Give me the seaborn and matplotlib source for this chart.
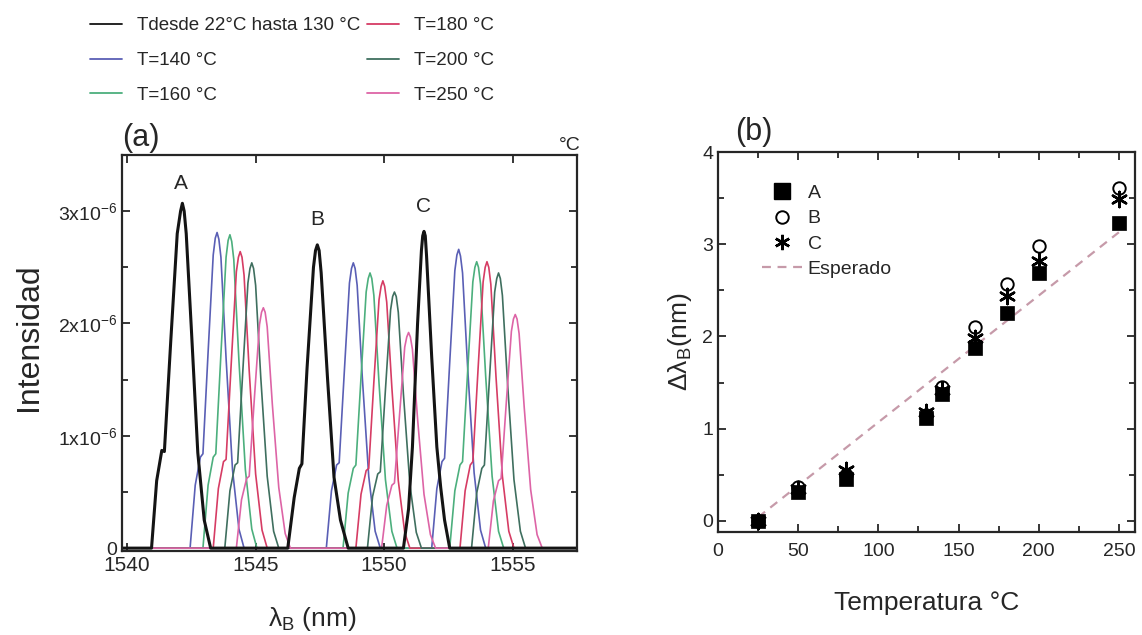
import matplotlib
matplotlib.use("Agg")
import matplotlib.pyplot as plt
import seaborn as sns
import pandas as pd
from matplotlib.lines import Line2D
from matplotlib.ticker import MultipleLocator, FixedLocator

sns.set_style("ticks")
plt.rcParams['font.family'] = ['Liberation Sans', 'DejaVu Sans']
plt.rcParams['mathtext.fontset'] = 'custom'
plt.rcParams['mathtext.rm'] = 'Liberation Sans'
plt.rcParams['mathtext.it'] = 'Liberation Sans:italic'
plt.rcParams['mathtext.sf'] = 'Liberation Sans'

# ---------------- Panel (a) data: spectra (intensity in units of 1e-6) ----------------
series_labels = ["Tdesde 22°C hasta 130 °C", "T=140 °C", "T=160 °C",
                 "T=180 °C", "T=200 °C", "T=250 °C"]
series_colors = ["#141414", "#5a5fb5", "#4caf7d", "#d63c64", "#3f6f5f", "#dd64a6"]

wl_black = [1539.8,
            1540.95, 1541.15, 1541.35, 1541.45, 1541.7, 1541.95, 1542.08, 1542.15, 1542.22, 1542.3, 1542.5, 1542.75, 1543.0, 1543.25,
            1546.25, 1546.5, 1546.7, 1546.8, 1547.0, 1547.25, 1547.33, 1547.4, 1547.47, 1547.55, 1547.8, 1548.05, 1548.3, 1548.6,
            1550.75, 1550.95, 1551.1, 1551.3, 1551.45, 1551.5, 1551.55, 1551.6, 1551.65, 1551.85, 1552.05, 1552.2, 1552.35, 1552.55,
            1557.5]
int_black = [0,
             0, 0.6, 0.87, 0.86, 1.85, 2.8, 3.0, 3.07, 3.0, 2.8, 1.95, 0.85, 0.25, 0,
             0, 0.45, 0.71, 0.75, 1.6, 2.5, 2.65, 2.70, 2.65, 2.45, 1.5, 0.63, 0.25, 0,
             0, 0.35, 0.9, 2.0, 2.65, 2.78, 2.82, 2.78, 2.6, 1.7, 0.9, 0.54, 0.25, 0,
             0]

wl_140 = [1539.8,
          1542.45, 1542.65, 1542.85, 1542.95, 1543.15, 1543.35, 1543.43, 1543.5, 1543.57, 1543.65, 1543.85, 1544.1, 1544.35, 1544.55,
          1547.75, 1547.95, 1548.15, 1548.25, 1548.45, 1548.65, 1548.73, 1548.8, 1548.87, 1548.95, 1549.15, 1549.4, 1549.65, 1549.85,
          1551.85, 1552.05, 1552.25, 1552.35, 1552.55, 1552.75, 1552.83, 1552.9, 1552.97, 1553.05, 1553.25, 1553.5, 1553.75, 1553.95,
          1557.5]
int_140 = [0,
           0, 0.56, 0.81, 0.84, 1.74, 2.61, 2.76, 2.81, 2.75, 2.59, 1.69, 0.70, 0.17, 0,
           0, 0.51, 0.74, 0.76, 1.57, 2.36, 2.49, 2.54, 2.49, 2.34, 1.52, 0.64, 0.15, 0,
           0, 0.53, 0.77, 0.80, 1.65, 2.47, 2.61, 2.66, 2.60, 2.45, 1.60, 0.67, 0.16, 0,
           0]

wl_160 = [1539.8,
          1542.95, 1543.15, 1543.35, 1543.45, 1543.65, 1543.85, 1543.93, 1544.0, 1544.07, 1544.15, 1544.35, 1544.6, 1544.85, 1545.05,
          1548.4, 1548.6, 1548.8, 1548.9, 1549.1, 1549.3, 1549.38, 1549.45, 1549.52, 1549.6, 1549.8, 1550.05, 1550.3, 1550.5,
          1552.55, 1552.75, 1552.95, 1553.05, 1553.25, 1553.45, 1553.53, 1553.6, 1553.67, 1553.75, 1553.95, 1554.2, 1554.45, 1554.65,
          1557.5]
int_160 = [0,
           0, 0.56, 0.81, 0.84, 1.73, 2.59, 2.74, 2.79, 2.73, 2.57, 1.67, 0.70, 0.17, 0,
           0, 0.49, 0.71, 0.74, 1.52, 2.28, 2.40, 2.45, 2.40, 2.25, 1.47, 0.61, 0.15, 0,
           0, 0.51, 0.74, 0.77, 1.58, 2.37, 2.50, 2.55, 2.50, 2.35, 1.53, 0.64, 0.15, 0,
           0]

wl_180 = [1539.8,
          1543.35, 1543.55, 1543.75, 1543.85, 1544.05, 1544.25, 1544.33, 1544.4, 1544.47, 1544.55, 1544.75, 1545.0, 1545.25, 1545.45,
          1548.9, 1549.1, 1549.3, 1549.4, 1549.6, 1549.8, 1549.88, 1549.95, 1550.02, 1550.1, 1550.3, 1550.55, 1550.8, 1551.0,
          1552.95, 1553.15, 1553.35, 1553.45, 1553.65, 1553.85, 1553.93, 1554.0, 1554.07, 1554.15, 1554.35, 1554.6, 1554.85, 1555.05,
          1557.5]
int_180 = [0,
           0, 0.53, 0.77, 0.79, 1.64, 2.46, 2.59, 2.64, 2.59, 2.43, 1.58, 0.66, 0.16, 0,
           0, 0.48, 0.69, 0.71, 1.48, 2.21, 2.33, 2.38, 2.33, 2.19, 1.43, 0.60, 0.14, 0,
           0, 0.51, 0.74, 0.77, 1.58, 2.37, 2.50, 2.55, 2.50, 2.35, 1.53, 0.64, 0.15, 0,
           0]

wl_200 = [1539.8,
          1543.8, 1544.0, 1544.2, 1544.3, 1544.5, 1544.7, 1544.78, 1544.85, 1544.92, 1545.0, 1545.2, 1545.45, 1545.7, 1545.9,
          1549.35, 1549.55, 1549.75, 1549.85, 1550.05, 1550.25, 1550.33, 1550.4, 1550.47, 1550.55, 1550.75, 1551.0, 1551.25, 1551.45,
          1553.4, 1553.6, 1553.8, 1553.9, 1554.1, 1554.3, 1554.38, 1554.45, 1554.52, 1554.6, 1554.8, 1555.05, 1555.3, 1555.5,
          1557.5]
int_200 = [0,
           0, 0.51, 0.74, 0.76, 1.57, 2.36, 2.49, 2.54, 2.49, 2.34, 1.52, 0.64, 0.15, 0,
           0, 0.46, 0.66, 0.68, 1.41, 2.12, 2.24, 2.28, 2.24, 2.10, 1.37, 0.57, 0.14, 0,
           0, 0.49, 0.71, 0.74, 1.52, 2.28, 2.40, 2.45, 2.40, 2.25, 1.47, 0.61, 0.15, 0,
           0]

wl_250 = [1539.8,
          1544.25, 1544.45, 1544.65, 1544.75, 1544.95, 1545.15, 1545.23, 1545.3, 1545.37, 1545.45, 1545.65, 1545.9, 1546.15, 1546.35,
          1549.9, 1550.1, 1550.3, 1550.4, 1550.6, 1550.8, 1550.88, 1550.95, 1551.02, 1551.1, 1551.3, 1551.55, 1551.8, 1552.0,
          1554.05, 1554.25, 1554.45, 1554.55, 1554.75, 1554.95, 1555.03, 1555.1, 1555.17, 1555.25, 1555.45, 1555.7, 1555.95, 1556.15,
          1557.5]
int_250 = [0,
           0, 0.43, 0.62, 0.64, 1.33, 1.99, 2.10, 2.14, 2.10, 1.97, 1.28, 0.54, 0.13, 0,
           0, 0.38, 0.56, 0.58, 1.19, 1.79, 1.88, 1.92, 1.88, 1.77, 1.15, 0.48, 0.12, 0,
           0, 0.42, 0.60, 0.62, 1.29, 1.93, 2.04, 2.08, 2.04, 1.91, 1.25, 0.52, 0.12, 0,
           0]

peak_names = ["A", "B", "C"]
peak_label_wl = [1542.1, 1547.4, 1551.55]
peak_label_int = [3.25, 2.93, 3.04]

a_xticks = [1540, 1545, 1550, 1555]
a_yticks = [0, 1, 2, 3]
a_yticklabels = ["0", r"1x10$^{-6}$", r"2x10$^{-6}$", r"3x10$^{-6}$"]

# ---------------- Panel (b) data ----------------
temp = [25, 50, 80, 130, 140, 160, 180, 200, 250]
shift_A = [0.0, 0.31, 0.45, 1.12, 1.38, 1.88, 2.25, 2.69, 3.23]
shift_B = [0.0, 0.37, 0.50, 1.15, 1.45, 2.10, 2.57, 2.98, 3.61]
shift_C = [0.0, 0.35, 0.55, 1.18, 1.42, 1.98, 2.44, 2.82, 3.49]
esp_temp = [25, 250]
esp_shift = [0.04, 3.13]

# ---------------- Figure ----------------
fig = plt.figure(figsize=(11.42, 6.35), dpi=100)
ax1 = fig.add_axes([0.1068, 0.1315, 0.3984, 0.6244])
ax2 = fig.add_axes([0.6287, 0.1622, 0.3651, 0.5984])

all_wl = [wl_black, wl_140, wl_160, wl_180, wl_200, wl_250]
all_int = [int_black, int_140, int_160, int_180, int_200, int_250]
frames = []
for lab, w, i in zip(series_labels, all_wl, all_int):
    frames.append(pd.DataFrame({"wl": w, "int": i, "serie": lab}))
spec = pd.concat(frames, ignore_index=True)

handles = []
order = [1, 2, 3, 4, 5, 0]
for k in order:
    lab = series_labels[k]
    sub = spec[spec["serie"] == lab]
    lw = 2.2 if k == 0 else 1.2
    sns.lineplot(data=sub, x="wl", y="int", color=series_colors[k], lw=lw,
                 sort=False, estimator=None, ax=ax1)
for k in range(6):
    handles.append(Line2D([], [], color=series_colors[k], lw=1.3))
if ax1.get_legend() is not None:
    ax1.get_legend().remove()

for n, xw, yi in zip(peak_names, peak_label_wl, peak_label_int):
    ax1.text(xw, yi, n, ha="center", va="center", fontsize=15)

ax1.set_xlim(1539.8, 1557.5)
ax1.set_ylim(-0.03, 3.5)
ax1.xaxis.set_major_locator(FixedLocator(a_xticks))
ax1.set_yticks(a_yticks)
ax1.set_yticklabels(a_yticklabels)
ax1.yaxis.set_minor_locator(MultipleLocator(0.5))
ax1.tick_params(axis="x", labelsize=15)
ax1.tick_params(axis="y", labelsize=14)
ax1.tick_params(which="both", direction="in", top=True, right=True, width=1.3)
ax1.tick_params(which="major", length=6)
ax1.tick_params(which="minor", length=4)
ax1.set_xlabel(r"$\mathrm{\lambda_B}$ (nm)", fontsize=19)
ax1.xaxis.set_label_coords(0.418, -0.135)
ax1.set_ylabel("Intensidad", fontsize=23)
ax1.yaxis.set_label_coords(-0.172, 0.54)
for s in ax1.spines.values():
    s.set_linewidth(1.6)
ax1.text(0.985, 1.003, "°C", transform=ax1.transAxes, ha="center", va="bottom", fontsize=14)

fig.text(122 / 1142, 1 - 138 / 635, "(a)", fontsize=22, va="center", ha="left")
fig.text(735 / 1142, 1 - 132 / 635, "(b)", fontsize=22, va="center", ha="left")

fig.legend(handles, series_labels, ncol=2, loc="upper left",
           bbox_to_anchor=(90 / 1142, 1 - 17 / 635), frameon=False, fontsize=13.5,
           handlelength=1.7, handletextpad=0.8, columnspacing=0.35,
           labelspacing=0.95, borderpad=0, borderaxespad=0)

# Panel (b)
sns.lineplot(x=esp_temp, y=esp_shift, color="#c69aa9", lw=1.6, dashes=False,
             linestyle=(0, (4, 3)), ax=ax2)
sns.scatterplot(x=temp, y=shift_B, marker="o", s=80, facecolor="white",
                edgecolor="black", linewidth=1.4, ax=ax2, zorder=3)
sns.scatterplot(x=temp, y=shift_C, marker=(6, 2, 0), s=120, color="black",
                edgecolor="black", linewidth=1.8, ax=ax2, zorder=4)
sns.scatterplot(x=temp, y=shift_A, marker="s", s=115, color="black",
                edgecolor="black", linewidth=0.5, ax=ax2, zorder=5)

ax2.set_xlim(0, 260)
ax2.set_ylim(-0.12, 4.0)
ax2.xaxis.set_major_locator(MultipleLocator(50))
ax2.xaxis.set_minor_locator(MultipleLocator(25))
ax2.yaxis.set_major_locator(MultipleLocator(1))
ax2.yaxis.set_minor_locator(MultipleLocator(0.5))
ax2.tick_params(labelsize=14)
ax2.tick_params(axis="x", pad=8)
ax2.tick_params(which="both", direction="in", top=True, right=True, width=1.3)
ax2.tick_params(which="major", length=6)
ax2.tick_params(which="minor", length=4)
ax2.set_xlabel("Temperatura °C", fontsize=19, labelpad=22)
ax2.set_ylabel(r"$\mathrm{\Delta\lambda_B}$(nm)", fontsize=19, labelpad=6)
for s in ax2.spines.values():
    s.set_linewidth(1.6)

leg_handles = [
    Line2D([], [], marker="s", color="black", ls="none", markersize=11),
    Line2D([], [], marker="o", markerfacecolor="white", markeredgecolor="black", ls="none",
           markersize=9, markeredgewidth=1.4),
    Line2D([], [], marker=(6, 2, 0), color="black", ls="none", markersize=11, markeredgewidth=1.8),
    Line2D([], [], color="#c69aa9", lw=1.6, ls=(0, (4, 3))),
]
ax2.legend(leg_handles, ["A", "B", "C", "Esperado"], loc="upper left",
           bbox_to_anchor=(0.1055, 0.915), frameon=False, fontsize=14,
           handlelength=2.1, handletextpad=0.25, labelspacing=0.4,
           borderpad=0, borderaxespad=0)

fig.savefig("out.png", dpi=100)
